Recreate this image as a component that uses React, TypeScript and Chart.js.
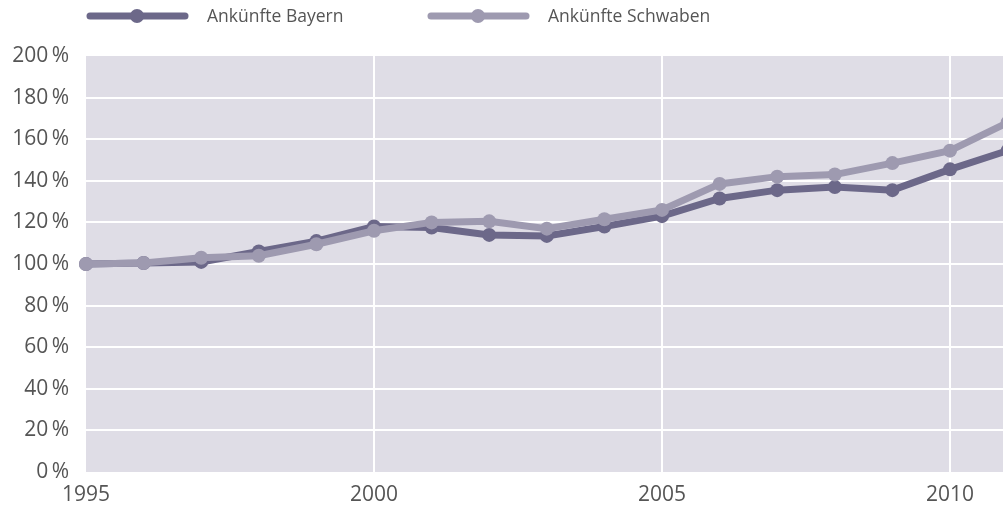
import React, { useEffect, useRef } from "react";
import { Chart, registerables } from "chart.js";

Chart.register(...registerables);

const years = [1995, 1996, 1997, 1998, 1999, 2000, 2001, 2002, 2003, 2004, 2005, 2006, 2007, 2008, 2009, 2010, 2011];
const bayern = [100, 100.5, 101, 106, 111, 118, 117.5, 114, 113.5, 118, 123, 131.5, 135.5, 137, 135.5, 145.5, 154.5];
const schwaben = [100, 100.5, 103, 104, 109.5, 116, 120, 120.5, 117, 121.5, 126, 138.5, 142, 143, 148.5, 154.5, 168];
const xTicks = [1995, 2000, 2005, 2010];
const seriesLabels = ["Ankünfte Bayern", "Ankünfte Schwaben"];

const BAYERN_COLOR = "#6c6889";
const SCHWABEN_COLOR = "#9e9ab0";
const BG_COLOR = "#dfdde6";
const TEXT_COLOR = "#555555";
const FONT = "'Open Sans', sans-serif";

const bgPlugin = {
  id: "areaBg",
  beforeDraw(chart: any) {
    const { ctx, chartArea } = chart;
    ctx.save();
    ctx.fillStyle = BG_COLOR;
    ctx.fillRect(chartArea.left, chartArea.top, chartArea.right - chartArea.left, chartArea.bottom - chartArea.top);
    ctx.restore();
  },
};

const legendPlugin = {
  id: "customLegend",
  afterDraw(chart: any) {
    const { ctx } = chart;
    const items = [
      { x: 87, textX: 207 },
      { x: 428, textX: 548 },
    ];
    const y = 16;
    chart.data.datasets
      .slice()
      .sort((a: any, b: any) => a.legendIndex - b.legendIndex)
      .forEach((ds: any, i: number) => {
        const it = items[i];
        ctx.save();
        ctx.strokeStyle = ds.borderColor;
        ctx.lineWidth = 7;
        ctx.lineCap = "round";
        ctx.beginPath();
        ctx.moveTo(it.x + 3, y);
        ctx.lineTo(it.x + 98, y);
        ctx.stroke();
        ctx.fillStyle = ds.borderColor;
        ctx.beginPath();
        ctx.arc(it.x + 50, y, 7, 0, Math.PI * 2);
        ctx.fill();
        ctx.fillStyle = TEXT_COLOR;
        ctx.font = `400 17.5px ${FONT}`;
        ctx.textBaseline = "middle";
        ctx.textAlign = "left";
        ctx.fillText(ds.label, it.textX, y + 1);
        ctx.restore();
      });
  },
};

export default function App() {
  const ref = useRef<HTMLCanvasElement | null>(null);

  useEffect(() => {
    document.body.style.margin = "0";
    const canvas = ref.current!;
    const chart = new Chart(canvas, {
      type: "line",
      data: {
        datasets: [
          {
            label: seriesLabels[1],
            legendIndex: 1,
            data: years.map((y, i) => ({ x: y, y: schwaben[i] })),
            borderColor: SCHWABEN_COLOR,
            backgroundColor: SCHWABEN_COLOR,
            borderWidth: 7,
            pointRadius: 7,
            pointBorderWidth: 0,
            pointHoverRadius: 7,
            tension: 0,
            clip: false,
            order: 0,
          } as any,
          {
            label: seriesLabels[0],
            legendIndex: 0,
            data: years.map((y, i) => ({ x: y, y: bayern[i] })),
            borderColor: BAYERN_COLOR,
            backgroundColor: BAYERN_COLOR,
            borderWidth: 7,
            pointRadius: 7,
            pointBorderWidth: 0,
            pointHoverRadius: 7,
            tension: 0,
            clip: false,
            order: 1,
          } as any,
        ],
      },
      options: {
        animation: false,
        responsive: false,
        maintainAspectRatio: false,
        layout: { autoPadding: false, padding: { top: 56, right: 0, bottom: 0, left: 0 } },
        plugins: {
          legend: { display: false },
          tooltip: { enabled: false },
        },
        scales: {
          x: {
            type: "linear",
            min: 1995,
            max: 1995 + (1003 - 86) / 57.6,
            afterBuildTicks: (scale: any) => {
              scale.ticks = xTicks.map((v) => ({ value: v }));
            },
            afterFit: (scale: any) => {
              scale.height = 34;
              scale.paddingLeft = 0;
              scale.paddingRight = 0;
            },
            border: { display: false },
            grid: {
              drawTicks: false,
              lineWidth: 2,
              color: (c: any) => (c.tick && c.tick.value === 1995 ? "rgba(0,0,0,0)" : "#ffffff"),
            },
            ticks: {
              padding: 10,
              color: TEXT_COLOR,
              font: { family: FONT, size: 21, weight: "400" as any },
              maxRotation: 0,
              autoSkip: false,
              callback: (v: any) => String(v),
            },
          },
          y: {
            min: 0,
            max: 200,
            afterFit: (scale: any) => {
              scale.width = 86;
            },
            border: { display: false },
            grid: {
              drawTicks: false,
              lineWidth: 2,
              color: (c: any) =>
                c.tick && (c.tick.value === 0 || c.tick.value === 200) ? "rgba(0,0,0,0)" : "#ffffff",
            },
            ticks: {
              stepSize: 20,
              padding: 17,
              color: TEXT_COLOR,
              font: { family: FONT, size: 21, weight: "400" as any },
              callback: (v: any) => `${v}\u2009%`,
            },
          },
        },
      },
      plugins: [bgPlugin, legendPlugin],
    } as any);
    return () => chart.destroy();
  }, []);

  return <canvas ref={ref} width={1003} height={506} style={{ display: "block" }} />;
}
